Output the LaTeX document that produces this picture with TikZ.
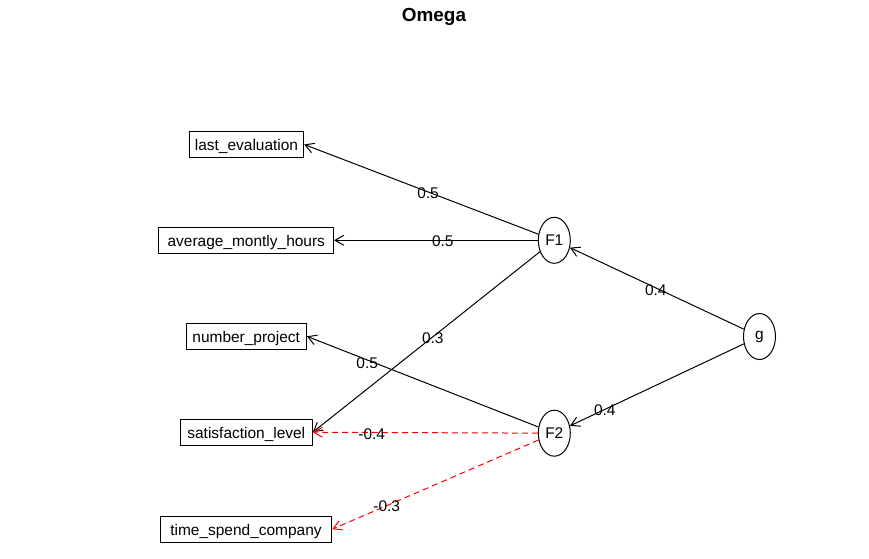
\documentclass[tikz,border=0pt]{standalone}
\usepackage{fontspec}
\setmainfont{Liberation Sans}
\usetikzlibrary{arrows.meta,shapes.geometric}
\begin{document}
\begin{tikzpicture}[x=0.75pt,y=-0.75pt,
  every node/.style={font=\fontsize{11.6}{13.9}\selectfont},
  varbox/.style={draw, rectangle, line width=0.75pt, inner sep=0pt,
    minimum height=19.5pt, text height=9.3pt, text depth=0pt},
  factor/.style={draw, ellipse, line width=0.75pt, inner sep=0pt,
    minimum width=24pt, minimum height=34.5pt},
  load/.style={line width=0.75pt, -{Straight Barb[length=6.5pt,width=7.5pt]}},
  negload/.style={load, red, dash pattern=on 4.5pt off 3pt},
  coef/.style={inner sep=0pt}
]
\useasboundingbox (0,0) rectangle (869,558);

% title
\node[anchor=base, font=\bfseries\fontsize{14.2}{17}\selectfont] (title) at (434,21.7) {Omega};

% observed variables
\node[varbox, minimum width=85.8pt]  (le)  at (246.5,144.5) {last\_evaluation};
\node[varbox, minimum width=131pt]   (amh) at (246.3,240.3) {average\_montly\_hours};
\node[varbox, minimum width=90.2pt]  (np)  at (246.2,336.3) {number\_project};
\node[varbox, minimum width=99pt]    (sl)  at (246.3,432.2) {satisfaction\_level};
\node[varbox, minimum width=128.6pt] (tsc) at (246,529.2)   {time\_spend\_company};

% latent factors
\node[factor] (F1) at (554.3,240.3) {F1};
\node[factor] (F2) at (554.3,433.2) {F2};
\node[factor] (g)  at (759.5,336.5) {g};

% loadings
\draw[load] (F1) -- (le.east);
\draw[load] (F1) -- (amh.east);
\draw[load] (F1) -- (sl.east);
\draw[load] (F2) -- (np.east);
\draw[negload] (F2) -- (sl.east);
\draw[negload] (F2) -- (tsc.east);
\draw[load] (g) -- (F1);
\draw[load] (g) -- (F2);

% coefficients
\node[coef] (c1) at (428,193.5)   {0.5};
\node[coef] (c2) at (442.8,241)   {0.5};
\node[coef] (c3) at (432.8,337.8) {0.3};
\node[coef] (c4) at (367.2,362.8) {0.5};
\node[coef] (c5) at (371.7,434.2) {-0.4};
\node[coef] (c6) at (386.7,506.2) {-0.3};
\node[coef] (c7) at (655.8,290)   {0.4};
\node[coef] (c8) at (604.8,410)   {0.4};
\end{tikzpicture}
\end{document}
